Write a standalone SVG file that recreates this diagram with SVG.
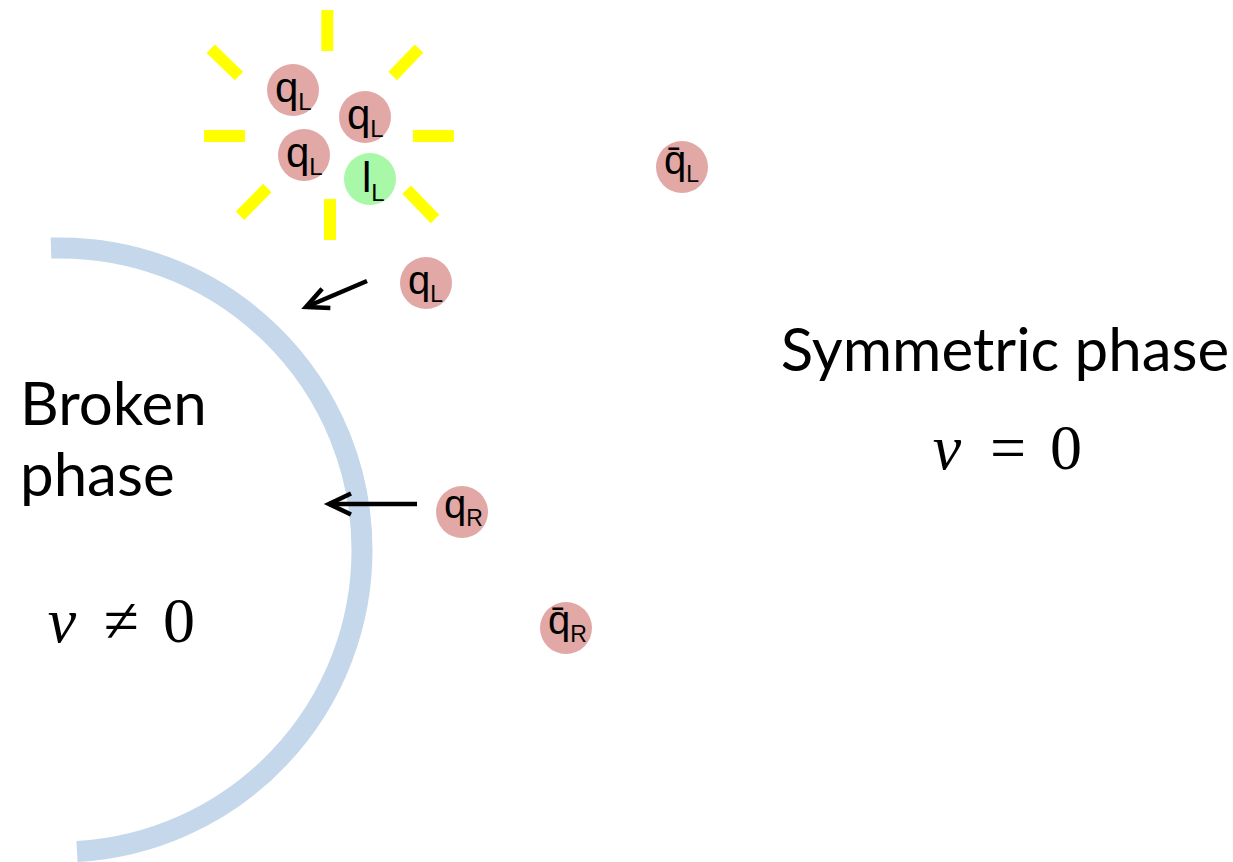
<svg xmlns="http://www.w3.org/2000/svg" width="1233" height="862" viewBox="0 0 1233 862">
<style>
.p{fill:#e1a8a6}
.g{fill:#a8f8a8}
.lb{font-family:"Liberation Sans",Arial,sans-serif;fill:#000}
.ray{stroke:#ffff00;stroke-width:12;stroke-linecap:butt}
.big{font-family:Lato,"Open Sans",sans-serif;font-size:60px;fill:#000}
.m{font-family:"Liberation Serif","Times New Roman",serif;font-size:64px;fill:#000;text-anchor:middle}
.arr{stroke:#000;stroke-width:4.5;fill:none}
</style>
<defs>
<marker id="ah" markerUnits="userSpaceOnUse" markerWidth="40" markerHeight="40" viewBox="-30 -20 40 40" refX="0" refY="0" orient="auto">
<path d="M-22,-10.5 L0,0 L-22,10.5" fill="none" stroke="#000" stroke-width="4.5"/>
</marker>
</defs>
<rect width="1233" height="862" fill="#fff"/>
<g id="wall">
<path d="M51,248.1 A302,302 0 0 1 362,550 A302,302 0 0 1 77,851.5" fill="none" stroke="#c5d7ea" stroke-width="21"/>
</g>
<g id="rays">
<line class="ray" x1="327.3" y1="10" x2="327.3" y2="51"/>
<line class="ray" x1="330" y1="199" x2="330" y2="240"/>
<line class="ray" x1="204" y1="136" x2="245" y2="136"/>
<line class="ray" x1="413" y1="136" x2="454" y2="136"/>
<line class="ray" x1="210.7" y1="48.7" x2="239" y2="76"/>
<line class="ray" x1="392.7" y1="76" x2="419" y2="48.7"/>
<line class="ray" x1="240" y1="215.7" x2="267.3" y2="188"/>
<line class="ray" x1="406.7" y1="189.7" x2="435" y2="219"/>
</g>
<g id="qL1"><circle class="p" cx="293" cy="90" r="26"/><text class="lb" x="275" y="102" font-size="42">q<tspan font-size="24" dy="8">L</tspan></text></g>
<g id="qL2"><circle class="p" cx="365" cy="117" r="26"/><text class="lb" x="347" y="129" font-size="42">q<tspan font-size="24" dy="8">L</tspan></text></g>
<g id="qL3"><circle class="p" cx="304" cy="155" r="26"/><text class="lb" x="286" y="167" font-size="42">q<tspan font-size="24" dy="8">L</tspan></text></g>
<g id="lL"><circle class="g" cx="370" cy="179" r="26"/><text class="lb" x="362" y="192" font-size="42">l<tspan font-size="24" dy="9">L</tspan></text></g>
<g id="qbarL"><circle class="p" cx="682" cy="167" r="26"/><text class="lb" x="664" y="174" font-size="40">q&#x304;<tspan font-size="23" dy="8">L</tspan></text></g>
<g id="qL4"><circle class="p" cx="426" cy="283" r="26"/><text class="lb" x="408" y="294" font-size="40">q<tspan font-size="23" dy="8">L</tspan></text></g>
<g id="qR"><circle class="p" cx="462" cy="512" r="26"/><text class="lb" x="444" y="518" font-size="40">q<tspan font-size="23" dy="8">R</tspan></text></g>
<g id="qbarR"><circle class="p" cx="566" cy="628" r="26"/><text class="lb" x="548" y="634" font-size="40">q&#x304;<tspan font-size="23" dy="8">R</tspan></text></g>
<g id="connectors">
<line class="arr" x1="367" y1="281" x2="306" y2="307" marker-end="url(#ah)"/>
<line class="arr" x1="417" y1="504" x2="329" y2="504" marker-end="url(#ah)"/>
</g>
<g id="broken">
<text class="big" x="20" y="425">Broken</text>
<text class="big" x="20" y="496">phase</text>
<text class="m" x="62" y="642" font-style="italic" font-size="70">v</text>
<text class="m" x="121" y="642" font-size="74">≠</text>
<text class="m" x="179" y="642" font-size="66">0</text>
</g>
<g id="symmetric">
<text class="big" x="1005" y="371" text-anchor="middle" font-size="58">Symmetric phase</text>
<text class="m" x="947" y="469" font-style="italic" font-size="70">v</text>
<text class="m" x="1008" y="469" font-size="74">=</text>
<text class="m" x="1066" y="469" font-size="66">0</text>
</g>
</svg>
